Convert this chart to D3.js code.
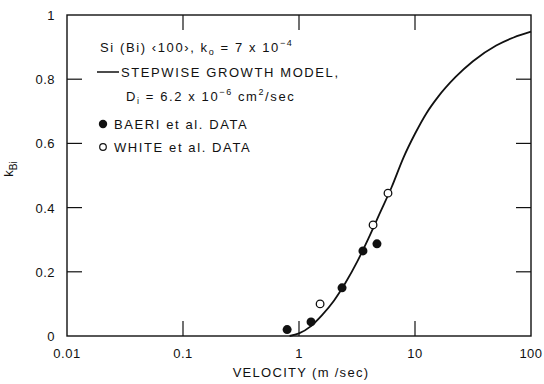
<!DOCTYPE html>
<html>
<head>
<meta charset="utf-8">
<script src="https://cdn.jsdelivr.net/npm/d3@7"></script>
<style>
  body { margin: 0; background: #fff; }
  text { font-family: "Liberation Sans", Arial, sans-serif; fill: #111; }
</style>
</head>
<body>
<div id="chart"></div>
<script>
// data
const xTicks = [0.01, 0.1, 1, 10, 100];
const xTickLabels = ["0.01", "0.1", "1", "10", "100"];
const yTicks = [0, 0.2, 0.4, 0.6, 0.8, 1];
const yTickLabels = ["0", "0.2", "0.4", "0.6", "0.8", "1"];

// stepwise growth model curve
const modelV = [0.83, 1.0, 1.26, 1.58, 2.0, 2.51, 3.16, 3.98, 5.01, 6.31, 7.94, 10, 12.6, 15.8, 22.4, 31.6, 50.1, 70.8, 100];
const modelK = [0, 0.008, 0.03, 0.065, 0.11, 0.165, 0.23, 0.305, 0.385, 0.465, 0.555, 0.63, 0.695, 0.745, 0.807, 0.856, 0.905, 0.93, 0.948];

// Baeri et al. (filled)
const baeriV = [0.79, 1.27, 2.35, 3.56, 4.7];
const baeriK = [0.02, 0.044, 0.15, 0.265, 0.287];

// White et al. (open)
const whiteV = [1.52, 4.35, 5.85];
const whiteK = [0.10, 0.346, 0.445];

const width = 544, height = 384;
const margin = {top: 15, right: 13, bottom: 48, left: 67};

const svg = d3.select("#chart")
    .append("svg")
    .attr("width", width)
    .attr("height", height);

const x = d3.scaleLog()
    .domain([0.01, 100])
    .range([margin.left, width - margin.right]);

const y = d3.scaleLinear()
    .domain([0, 1])
    .range([height - margin.bottom, margin.top]);

const tickLen = 15;

// frame
svg.append("rect")
    .attr("x", x(0.01))
    .attr("y", y(1))
    .attr("width", x(100) - x(0.01))
    .attr("height", y(0) - y(1))
    .attr("fill", "none")
    .attr("stroke", "#111")
    .attr("stroke-width", 1.4);

// inward ticks
const innerX = xTicks.slice(1, -1);
const innerY = yTicks.slice(1, -1);

const ticks = svg.append("g").attr("stroke", "#111").attr("stroke-width", 1.2);
innerX.forEach(v => {
    ticks.append("line").attr("x1", x(v)).attr("x2", x(v))
        .attr("y1", y(0)).attr("y2", y(0) - tickLen);
    ticks.append("line").attr("x1", x(v)).attr("x2", x(v))
        .attr("y1", y(1)).attr("y2", y(1) + tickLen);
});
innerY.forEach(v => {
    ticks.append("line").attr("x1", x(0.01)).attr("x2", x(0.01) + tickLen)
        .attr("y1", y(v)).attr("y2", y(v));
    ticks.append("line").attr("x1", x(100)).attr("x2", x(100) - tickLen)
        .attr("y1", y(v)).attr("y2", y(v));
});

// tick labels
svg.append("g").selectAll("text")
    .data(xTicks)
    .join("text")
    .attr("x", d => x(d))
    .attr("y", y(0) + 22)
    .attr("text-anchor", "middle")
    .style("font-size", "13px")
    .style("letter-spacing", "0.5px")
    .text((d, i) => xTickLabels[i]);

svg.append("g").selectAll("text")
    .data(yTicks)
    .join("text")
    .attr("x", x(0.01) - 12)
    .attr("y", d => y(d) + 5)
    .attr("text-anchor", "end")
    .style("font-size", "13px")
    .style("letter-spacing", "0.5px")
    .text((d, i) => yTickLabels[i]);

// axis titles
svg.append("text")
    .attr("x", (x(0.01) + x(100)) / 2 + 2)
    .attr("y", height - 7)
    .attr("text-anchor", "middle")
    .style("font-size", "13px")
    .style("letter-spacing", "1.3px")
    .text("VELOCITY (m /sec)");

const yTitle = svg.append("text")
    .attr("transform", `translate(13, ${y(0.52)}) rotate(-90)`)
    .attr("text-anchor", "middle")
    .style("font-size", "13px");
yTitle.append("tspan").text("k");
yTitle.append("tspan").attr("dy", 4).style("font-size", "10px").text("Bi");

// model curve
const modelData = modelV.map((v, i) => [v, modelK[i]]);
svg.append("path")
    .datum(modelData)
    .attr("fill", "none")
    .attr("stroke", "#111")
    .attr("stroke-width", 1.8)
    .attr("d", d3.line()
        .x(d => x(d[0]))
        .y(d => y(d[1]))
        .curve(d3.curveMonotoneX));

// data points
svg.append("g").selectAll("circle")
    .data(baeriV.map((v, i) => [v, baeriK[i]]))
    .join("circle")
    .attr("cx", d => x(d[0]))
    .attr("cy", d => y(d[1]))
    .attr("r", 4.5)
    .attr("fill", "#111");

svg.append("g").selectAll("circle")
    .data(whiteV.map((v, i) => [v, whiteK[i]]))
    .join("circle")
    .attr("cx", d => x(d[0]))
    .attr("cy", d => y(d[1]))
    .attr("r", 3.8)
    .attr("fill", "#fff")
    .attr("stroke", "#111")
    .attr("stroke-width", 1.3);

// legend
const lg = svg.append("g").style("font-size", "13px").style("letter-spacing", "1.6px");

const l1 = lg.append("text").attr("x", 100).attr("y", 52);
l1.append("tspan").text("Si (Bi) ‹100›, k");
l1.append("tspan").attr("dy", 3).style("font-size", "9px").text("o");
l1.append("tspan").attr("dy", -3).text(" = 7 x 10");
l1.append("tspan").attr("dy", -6).style("font-size", "9px").text("−4");

lg.append("line")
    .attr("x1", 97).attr("x2", 119)
    .attr("y1", 72).attr("y2", 72)
    .attr("stroke", "#111").attr("stroke-width", 1.5);
lg.append("text").attr("x", 121).attr("y", 77)
    .text("STEPWISE GROWTH MODEL,");

const l3 = lg.append("text").attr("x", 126).attr("y", 101);
l3.append("tspan").text("D");
l3.append("tspan").attr("dy", 3).style("font-size", "9px").text("i");
l3.append("tspan").attr("dy", -3).text(" = 6.2 x 10");
l3.append("tspan").attr("dy", -6).style("font-size", "9px").text("−6");
l3.append("tspan").attr("dy", 6).text(" cm");
l3.append("tspan").attr("dy", -6).style("font-size", "9px").text("2");
l3.append("tspan").attr("dy", 6).text("/sec");

lg.append("circle").attr("cx", 103).attr("cy", 124).attr("r", 4.2).attr("fill", "#111");
lg.append("text").attr("x", 114).attr("y", 129).text("BAERI et al. DATA");

lg.append("circle").attr("cx", 103).attr("cy", 147).attr("r", 3.3)
    .attr("fill", "#fff").attr("stroke", "#111").attr("stroke-width", 1.2);
lg.append("text").attr("x", 114).attr("y", 152).text("WHITE et al. DATA");
</script>
</body>
</html>
